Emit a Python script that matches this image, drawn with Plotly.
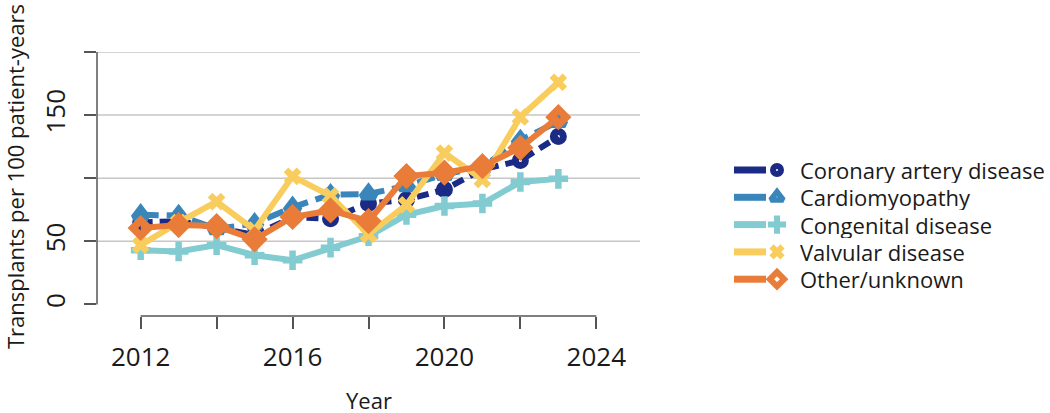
import plotly.graph_objects as go

W, H = 1050, 413
FONT = "Open Sans"
TXT = "#1a1a1a"

years = list(range(2012, 2024))
coronary = [65, 66, 61, 55, 69, 68, 80, 83, 91, 107, 114, 133]
cardiomyopathy = [71, 70.5, 60, 64, 77, 87, 87.5, 94, 103, 109, 130, 145]
congenital = [43, 42, 47, 39, 35, 45, 54, 71, 78, 80, 97, 99.5]
valvular = [47, 65, 81.5, 59, 101.5, 86, 55.5, 79, 120, 99, 148.5, 176]
other = [60.6, 62.9, 62.1, 51.6, 69.3, 74.5, 66.1, 101.7, 104.4, 109.6, 124.1, 148.4]

names = ["Coronary artery disease", "Cardiomyopathy", "Congenital disease",
         "Valvular disease", "Other/unknown"]
series = [coronary, cardiomyopathy, congenital, valvular, other]
colors = ["#1b2a85", "#3a86bb", "#82cbd1", "#f8cd5e", "#e97c38"]
symbols = ["circle-open", "triangle-up-open", "cross-thin-open", "x-thin-open", "diamond-open"]
msizes = [10, 12, 14, 13, 12]
mlw = [7, 7, 6.5, 6.5, 7.5]
dashes = ["12px,7px", "18px,8px", "solid", "solid", "solid"]

yticks = [0, 50, 100, 150, 200]
yticklabels = ["0", "50", "", "150", ""]
xticks = list(range(2012, 2026, 2))
xticklabels = ["2012", "", "2016", "", "2020", "", "2024"]
gridvals = [50, 100, 150, 200]

# pixel layout of the plot area
px_l, px_r, px_t, px_b = 97, 640, 52, 316
xdom = [px_l / W, px_r / W]
ydom = [(H - px_b) / H, (H - px_t) / H]

fig = go.Figure()
for name, vals, col, sym, ms, lw, dsh in zip(names, series, colors, symbols, msizes, mlw, dashes):
    fig.add_trace(go.Scatter(
        x=years, y=vals, mode="lines+markers", name=name, showlegend=False,
        line=dict(color=col, width=6, dash=dsh),
        marker=dict(symbol=sym, size=ms, color=col, line=dict(color=col, width=lw)),
        cliponaxis=False,
    ))

# custom legend (line + marker at right end, like the reference)
leg_x0, leg_x1, leg_mx, leg_tx = 734, 766, 777, 798
leg_y0, leg_dy = 170, 27.3
leg_ms = [8, 11, 13, 11, 11]
leg_lw = [6, 5.5, 6, 6, 6]
for i, (name, col, sym, ms, lw) in enumerate(zip(names, colors, symbols, leg_ms, leg_lw)):
    yy = leg_y0 + i * leg_dy
    fig.add_trace(go.Scatter(
        x=[leg_x0, leg_x1], y=[yy, yy], mode="lines", xaxis="x2", yaxis="y2",
        line=dict(color=col, width=7), showlegend=False, hoverinfo="skip"))
    fig.add_trace(go.Scatter(
        x=[leg_mx], y=[yy], mode="markers", xaxis="x2", yaxis="y2",
        marker=dict(symbol=sym, size=ms, color=col, line=dict(color=col, width=lw)),
        showlegend=False, hoverinfo="skip"))
    fig.add_annotation(x=leg_tx, y=yy, xref="x2", yref="y2", text=name, showarrow=False,
                       xanchor="left", yanchor="middle", height=26,
                       font=dict(family=FONT, size=22, color=TXT))

shapes = []
for g in gridvals:
    shapes.append(dict(type="line", xref="x domain", yref="y", x0=0, x1=1, y0=g, y1=g,
                       line=dict(color="#c6c6c6", width=1.5), layer="below"))
# y axis line (0..200)
shapes.append(dict(type="line", xref="x domain", yref="y", x0=0, x1=0, y0=0, y1=200,
                   line=dict(color="#555555", width=1.5)))
# x axis line (2012..2024)
shapes.append(dict(type="line", xref="x", yref="y domain", x0=2012, x1=2024, y0=0, y1=0,
                   line=dict(color="#555555", width=1.5)))

y0_val = 0 - (px_b - 304.5) / 1.2605

fig.update_layout(
    width=W, height=H,
    margin=dict(l=0, r=0, t=0, b=0),
    paper_bgcolor="white", plot_bgcolor="white",
    font=dict(family=FONT, color=TXT),
    shapes=shapes,
    xaxis=dict(domain=xdom, range=[2010.85, 2025.15], tickmode="array", tickvals=xticks,
               ticktext=xticklabels, ticks="outside", ticklen=12, tickwidth=1.5,
               tickcolor="#555555", showgrid=False, zeroline=False, showline=False,
               tickfont=dict(family=FONT, size=26, color=TXT), ticklabelstandoff=6),
    yaxis=dict(domain=ydom, range=[y0_val, 200], tickmode="array", tickvals=yticks,
               ticktext=yticklabels, ticks="outside", ticklen=12, tickwidth=1.5,
               tickcolor="#555555", showgrid=False, zeroline=False, showline=False,
               tickangle=-90, tickfont=dict(family=FONT, size=26, color=TXT),
               ticklabelstandoff=9),
    xaxis2=dict(domain=[700 / W, 800 / W], range=[700, 800], visible=False,
                anchor="y2", fixedrange=True),
    yaxis2=dict(domain=[(H - 300) / H, (H - 150) / H], range=[300, 150], visible=False,
                anchor="x2", fixedrange=True),
)

fig.add_annotation(x=15 / W, y=1 - 177 / H, xref="paper", yref="paper",
                   text="Transplants per 100 patient-years", textangle=-90, showarrow=False,
                   xanchor="center", yanchor="middle",
                   font=dict(family=FONT, size=22, color=TXT))
fig.add_annotation(x=368.5 / W, y=1 - 400 / H, xref="paper", yref="paper",
                   text="Year", showarrow=False, xanchor="center", yanchor="middle",
                   font=dict(family=FONT, size=22, color=TXT))

fig.write_html("out.html", config={"displayModeBar": False},
               post_script="document.body.style.margin='0';document.body.style.overflow='hidden';")
